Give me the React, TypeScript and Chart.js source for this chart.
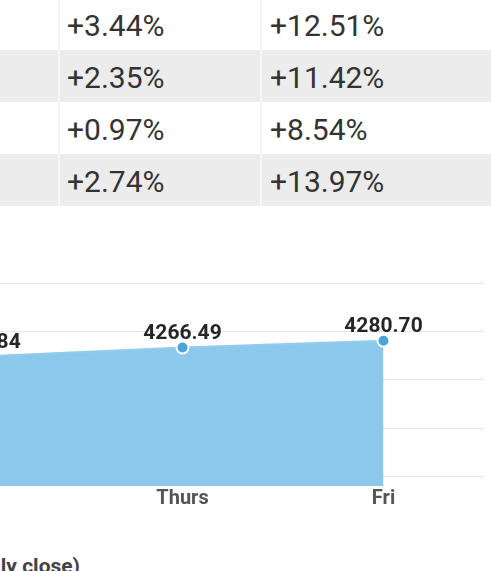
import React, { useEffect, useRef } from "react";
import { Chart, registerables } from "chart.js";

Chart.register(...registerables);

const weekChange = ["+3.44%", "+2.35%", "+0.97%", "+2.74%"];
const ytdChange = ["+12.51%", "+11.42%", "+8.54%", "+13.97%"];

const days = ["Wed", "Thurs", "Fri"];
const closes = [4247.84, 4266.49, 4280.7];
const yTicks = [4000, 4100, 4200, 4300, 4400];
const chartTitle = "S&P 500 (daily close)";

const FONT = "Roboto, 'Noto Sans', Arial, sans-serif";

const valueLabels = {
  id: "valueLabels",
  afterDatasetsDraw(chart: any) {
    const ctx = chart.ctx;
    const meta = chart.getDatasetMeta(0);
    ctx.save();
    ctx.font = `bold 21px ${FONT}`;
    ctx.fillStyle = "#262626";
    ctx.textAlign = "center";
    ctx.textBaseline = "alphabetic";
    meta.data.forEach((pt: any, i: number) => {
      ctx.fillText(closes[i].toFixed(2), pt.x, pt.y - 9);
    });
    ctx.restore();
  },
};

function LineChart() {
  const ref = useRef<HTMLCanvasElement | null>(null);
  useEffect(() => {
    if (!ref.current) return;
    const chart = new Chart(ref.current, {
      type: "line",
      data: {
        labels: days,
        datasets: [
          {
            data: closes,
            fill: "start",
            backgroundColor: "#8bc8eb",
            borderColor: "#93cced",
            borderWidth: 2,
            tension: 0,
            pointRadius: 6,
            pointBackgroundColor: "#4ba3dc",
            pointBorderColor: "#ffffff",
            pointBorderWidth: 2,
            clip: false,
          },
        ],
      },
      options: {
        animation: false,
        responsive: false,
        maintainAspectRatio: false,
        layout: { autoPadding: false, padding: { top: 10, left: 0, right: 0, bottom: 0 } },
        plugins: { legend: { display: false }, tooltip: { enabled: false } },
        scales: {
          x: {
            offset: true,
            grid: { display: false, drawTicks: false },
            border: { display: false },
            ticks: {
              padding: 1,
              color: "#555555",
              font: { family: FONT, size: 20, weight: "bold" },
            },
          },
          y: {
            min: 3980,
            max: 4400,
            afterBuildTicks: (axis: any) => {
              axis.ticks = yTicks.map((v) => ({ value: v }));
            },
            afterFit: (axis: any) => {
              axis.width = 0;
            },
            grid: { color: "#e6e6e6", lineWidth: 1, drawTicks: false },
            border: { display: false },
            ticks: { display: false },
          },
        },
      },
      plugins: [valueLabels],
    });
    return () => chart.destroy();
  }, []);
  return (
    <canvas
      ref={ref}
      width={603}
      height={239}
      style={{ position: "absolute", left: -119, top: 273, width: 603, height: 239 }}
    />
  );
}

export default function App() {
  const rowTops = [-2, 50, 102, 154];
  return (
    <div
      style={{
        position: "fixed",
        left: 0,
        top: 0,
        width: 491,
        height: 571,
        overflow: "hidden",
        background: "#ffffff",
        fontFamily: FONT,
      }}
    >
      {rowTops.map((top, i) => {
        const grey = i % 2 === 1;
        return (
          <div
            key={i}
            style={{
              position: "absolute",
              left: 0,
              top,
              width: 491,
              height: 52,
              background: grey ? "#ececec" : "#ffffff",
            }}
          >
            {[58, 260].map((x) => (
              <div
                key={x}
                style={{
                  position: "absolute",
                  left: x,
                  top: 0,
                  width: 2,
                  height: 52,
                  background: grey ? "#f8f8f8" : "#f3f3f3",
                }}
              />
            ))}
            <div
              style={{
                position: "absolute",
                left: 67,
                top: 2,
                height: 52,
                lineHeight: "52px",
                fontSize: 30,
                color: "#333333",
                whiteSpace: "nowrap",
              }}
            >
              {weekChange[i]}
            </div>
            <div
              style={{
                position: "absolute",
                left: 270,
                top: 2,
                height: 52,
                lineHeight: "52px",
                fontSize: 30,
                color: "#333333",
                whiteSpace: "nowrap",
              }}
            >
              {ytdChange[i]}
            </div>
          </div>
        );
      })}
      <LineChart />
      <div
        style={{
          position: "absolute",
          right: 411,
          top: 554,
          fontSize: 21,
          fontWeight: "bold",
          color: "#444444",
          whiteSpace: "nowrap",
          lineHeight: "24px",
        }}
      >
        {chartTitle}
      </div>
    </div>
  );
}
